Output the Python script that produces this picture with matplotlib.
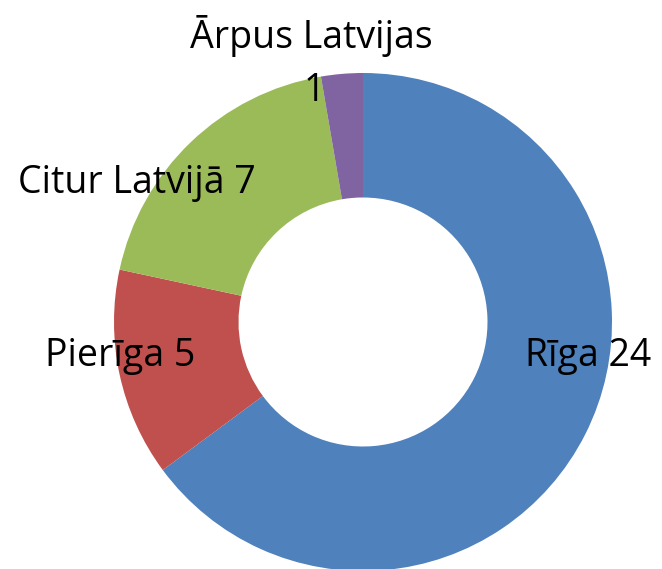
import matplotlib
matplotlib.use("Agg")
import matplotlib.pyplot as plt

labels = ["Rīga", "Pierīga", "Citur Latvijā", "Ārpus Latvijas"]
values = [24, 5, 7, 1]
colors = ["#4F81BD", "#C0504D", "#9BBB59", "#8064A2"]

plt.rcParams['font.family'] = ['Open Sans', 'DejaVu Sans']

W, H = 662, 569
fig = plt.figure(figsize=(W / 100, H / 100), dpi=100)
ax = fig.add_axes([0, 0, 1, 1])
cx, cy, R = 363, 322, 249

ax.pie(values, colors=colors, startangle=90, counterclock=False,
       radius=1.0, wedgeprops=dict(width=0.5, linewidth=0))
ax.set_xlim((0 - cx) / R, (W - cx) / R)
ax.set_ylim((cy - H) / R, (cy - 0) / R)
ax.set_aspect('equal')
ax.axis('off')

def px(x, y):
    return (x - cx) / R, (cy - y) / R

fs = 27
ax.text(*px(588, 356), f"{labels[0]} {values[0]}", ha='center', va='center', fontsize=fs)
ax.text(*px(120, 356), f"{labels[1]} {values[1]}", ha='center', va='center', fontsize=fs)
ax.text(*px(137, 183), f"{labels[2]} {values[2]}", ha='center', va='center', fontsize=fs)
ax.text(*px(311, 36), f"{labels[3]}", ha='center', va='center', fontsize=fs)
ax.text(*px(314, 91), f"{values[3]}", ha='center', va='center', fontsize=fs)

fig.savefig("out.png", dpi=100)
